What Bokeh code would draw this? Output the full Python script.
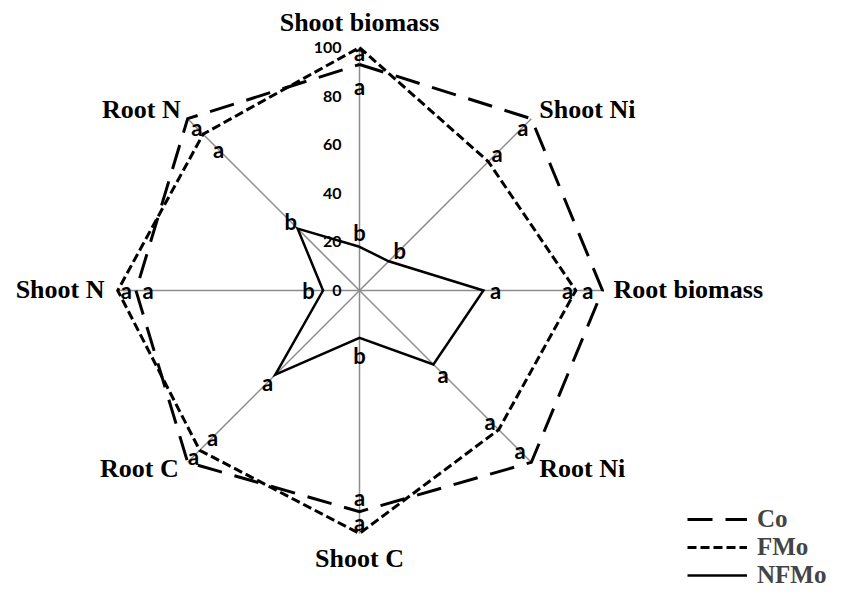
import numpy as np
from bokeh.plotting import figure
from bokeh.models import Range1d, Legend, LegendItem, ColumnDataSource
from bokeh.embed import file_html
from bokeh.resources import INLINE
from bokeh.core.properties import value

# ---- data ----
categories = ["Shoot biomass", "Shoot Ni", "Root biomass", "Root Ni",
              "Shoot C", "Root C", "Shoot N", "Root N"]
co = [93, 100, 100, 100, 91, 100, 92, 100]
fmo = [100, 75, 89, 81, 100, 93, 99.5, 91]
nfmo = [18, 17, 51, 43, 19.5, 49, 15, 36]
ticks = [0, 20, 40, 60, 80, 100]
letters_co = ["a", "a", "a", "a", "a", "a", "a", "a"]
letters_fmo = ["a", "a", "a", "a", "a", "a", "a", "a"]
letters_nfmo = ["b", "b", "a", "a", "b", "a", "b", "b"]

# ---- layout constants ----
W, H = 830, 590
CX, CY = 359, 290          # centre of the radar in frame pixels
R_PX = 243                 # pixels for value 100
s = 100.0 / R_PX
angles = np.deg2rad([90, 45, 0, -45, -90, -135, 180, 135])
cosA, sinA = np.cos(angles), np.sin(angles)

# letter label radii (positions)
lab_r_outer = [98, 95, 94, 93.4, 95.5, 96.6, 96, 94.6]
lab_r_mid = [84, 80, 85.6, 76, 85, 85.5, 87, 82]
lab_r_inner = [24, 23.4, 56, 48.6, 26.7, 53.5, 21, 40]

# category label offsets (screen px) and alignments
cat_dx = [0, 8, 11, 8, 0, -9, -12, -7]
cat_dy = [-25, -9, -1, 6, 25, 6, -1, -9]
cat_align = ["center", "left", "left", "left", "center", "right", "right", "right"]

p = figure(width=W, height=H, output_backend="svg", toolbar_location=None,
           x_range=Range1d(-CX * s, (W - CX) * s),
           y_range=Range1d(-(H - CY) * s, CY * s),
           min_border=0, outline_line_color=None,
           background_fill_color="white", border_fill_color="white")
p.xaxis.visible = False
p.yaxis.visible = False
p.grid.visible = False

# spokes
p.segment(x0=np.zeros(8), y0=np.zeros(8), x1=100 * cosA, y1=100 * sinA,
          line_color="#8c8c8c", line_width=1.5)

def poly(vals):
    v = np.array(vals + vals[:1], dtype=float)
    a_c = np.append(cosA, cosA[0])
    a_s = np.append(sinA, sinA[0])
    return v * a_c, v * a_s

xc, yc = poly(co)
xf, yf = poly(fmo)
xn, yn = poly(nfmo)
r_co = p.line(xc, yc, line_color="black", line_width=3, line_dash="25 13", line_join="miter")
r_fmo = p.line(xf, yf, line_color="black", line_width=3, line_dash="9 4", line_join="miter")
r_nfmo = p.line(xn, yn, line_color="black", line_width=2.5, line_join="miter")

# letter labels
def lab(rs, letters):
    rs = np.array(rs)
    p.text(x=rs * cosA, y=rs * sinA, text=letters,
           text_font=value("Lato"), text_font_style="bold", text_font_size="22px",
           text_align="center", text_baseline="middle", text_color="black")

lab(lab_r_outer, letters_co)
lab(lab_r_mid, letters_fmo)
lab(lab_r_inner, letters_nfmo)

# tick labels
p.text(x=np.zeros(len(ticks)), y=np.array(ticks, dtype=float),
       text=[str(t) for t in ticks], x_offset=-18,
       text_font=value("Lato"), text_font_style="bold", text_font_size="16px",
       text_align="right", text_baseline="middle", text_color="black")

# category labels
cat_src = ColumnDataSource(dict(x=100 * cosA, y=100 * sinA, text=categories,
                                dx=cat_dx, dy=cat_dy, align=cat_align))
p.text(x="x", y="y", text="text", x_offset="dx", y_offset="dy", text_align="align",
       text_baseline="alphabetic", source=cat_src,
       text_font=value("Liberation Serif"), text_font_style="bold",
       text_font_size="26px", text_color="black")

legend = Legend(items=[LegendItem(label="Co", renderers=[r_co]),
                       LegendItem(label="FMo", renderers=[r_fmo]),
                       LegendItem(label="NFMo", renderers=[r_nfmo])],
                location=(687, 1), glyph_width=60, glyph_height=20,
                label_standoff=10, spacing=-5, padding=0, margin=0,
                label_height=20,
                label_text_font="Liberation Serif", label_text_font_style="bold",
                label_text_font_size="25px",
                border_line_color=None, background_fill_alpha=0)
p.add_layout(legend)

open("out.html", "w").write(file_html(p, INLINE))
